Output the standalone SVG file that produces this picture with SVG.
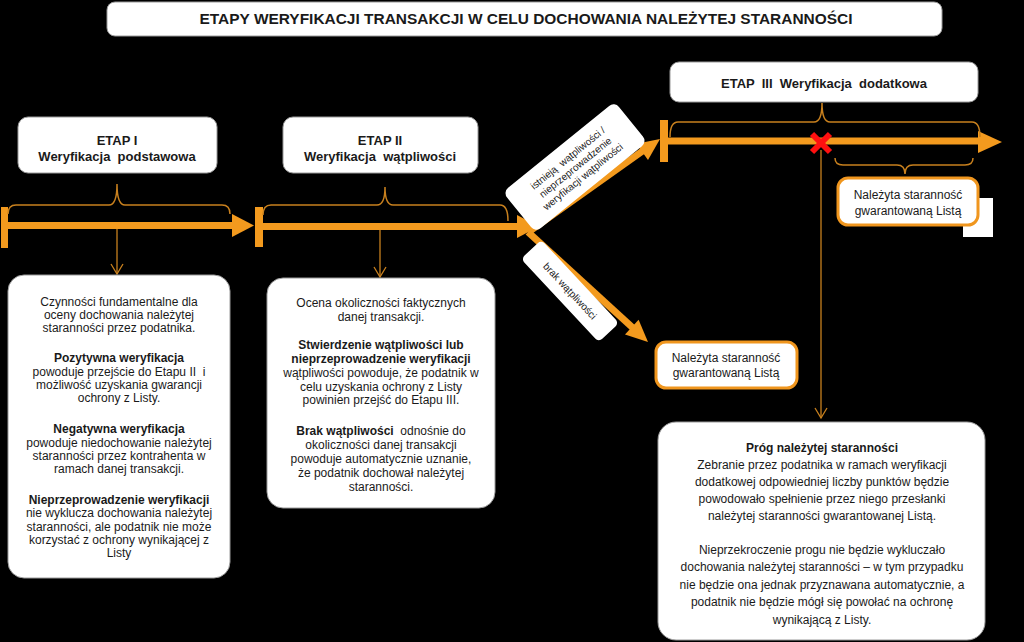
<svg xmlns="http://www.w3.org/2000/svg" width="1024" height="642" viewBox="0 0 1024 642">
<defs>
<style>
text{font-family:"Liberation Sans",Arial,sans-serif;fill:#1a1a1a;text-anchor:middle}
.t{font-size:12px}
.b{font-weight:bold}
.h{font-size:13px;font-weight:bold}
.box{fill:#fff;stroke:#9a9a9a;stroke-width:1}
.obox{fill:#fff;stroke:#f0961e;stroke-width:3}
.thick{stroke:#f39a1e;stroke-width:7;fill:none}
.ah{fill:#f39a1e}
.brace{fill:none;stroke:#c8801e;stroke-width:1.5}
.thin{fill:none;stroke:#c8801e;stroke-width:1.3}
.lab{font-size:10px}
</style>
</defs>
<rect width="1024" height="642" fill="#000"/>

<g id="title">
<rect class="box" x="107" y="2" width="835" height="34" rx="8"/>
<text class="b" x="526" y="24" font-size="14" textLength="653" lengthAdjust="spacingAndGlyphs">ETAPY WERYFIKACJI TRANSAKCJI W CELU DOCHOWANIA  NALEŻYTEJ STARANNOŚCI</text>
</g>

<g id="connectors">
<!-- timeline 1 -->
<rect class="ah" x="1" y="207" width="7" height="41"/>
<line class="thick" x1="8" y1="225.5" x2="234" y2="225.5"/>
<polygon class="ah" points="232,214 254,225.5 232,237"/>
<path class="brace" d="M8,214 Q8,205 16,205 L109,205 Q117,205 117,184 Q117,205 125,205 L222,205 Q230,205 230,214"/>
<line class="thin" x1="117" y1="229" x2="117" y2="274"/>
<polyline class="thin" points="111,264 117,274 123,264"/>
<!-- timeline 2 -->
<rect class="ah" x="255" y="207" width="8" height="40"/>
<line class="thick" x1="263" y1="226.5" x2="519" y2="226.5"/>
<polygon class="ah" points="517,215 539,226.5 517,238"/>
<path class="brace" d="M263,215 Q263,205 271,205 L377,205 Q385,205 385,187 Q385,205 393,205 L500,205 Q508,205 508,221"/>
<line class="thin" x1="380" y1="230" x2="380" y2="277"/>
<polyline class="thin" points="374,267 380,277 386,267"/>
<!-- diagonal up -->
<line class="thick" x1="530" y1="231" x2="644" y2="150" stroke-width="8"/>
<polygon class="ah" points="648,160 660,139 636.4,143.7"/>
<!-- diagonal down -->
<line class="thick" x1="528" y1="232" x2="633" y2="328" stroke-width="8"/>
<polygon class="ah" points="625,334.5 648,342 638.6,319.7"/>
<!-- timeline 3 -->
<rect class="ah" x="660" y="120" width="8" height="42"/>
<line class="thick" x1="668" y1="141" x2="980" y2="141" stroke-width="8"/>
<polygon class="ah" points="978,131 1002,142 978,153"/>
<path class="brace" d="M670,137 Q670,122 678,122 L814,122 Q822,122 822,103 Q822,122 830,122 L972,122 Q980,122 980,137"/>
<path class="brace" d="M835,158 Q835,165 843,165 L897,165 Q905,165 905,174 Q905,165 913,165 L965,165 Q973,165 973,158"/>
<line class="thin" x1="821" y1="150" x2="821" y2="418"/>
<polyline class="thin" points="815,408 821,418 827,408"/>
<g stroke="#ff1010" stroke-width="6" stroke-linecap="butt">
<line x1="812" y1="134" x2="830" y2="152"/>
<line x1="830" y1="134" x2="812" y2="152"/>
</g>
</g>

<g id="etap1">
<rect class="box" x="18" y="117" width="199" height="56" rx="10"/>
<text class="h" x="117" y="145">ETAP I</text>
<text class="h" x="117" y="161" xml:space="preserve">Weryfikacja  podstawowa</text>
</g>

<g id="etap2">
<rect class="box" x="283" y="117" width="195" height="56" rx="10"/>
<text class="h" x="380" y="145">ETAP II</text>
<text class="h" x="380" y="161" xml:space="preserve">Weryfikacja  wątpliwości</text>
</g>

<g id="etap3">
<rect class="box" x="670" y="62" width="308" height="40" rx="9"/>
<text class="h" x="824" y="88" xml:space="preserve">ETAP  III  Weryfikacja  dodatkowa</text>
</g>

<g id="label-up">
<g transform="translate(575,167) rotate(-39)">
<rect fill="#fff" x="-72" y="-26" width="144" height="52" rx="7"/>
<text class="lab" x="0" y="-8" xml:space="preserve">istnieją  wątpliwości /</text>
<text class="lab" x="0" y="4">nieprzeprowadzenie</text>
<text class="lab" x="0" y="16">weryfikacji wątpliwości</text>
</g>
</g>

<g id="label-down">
<g transform="translate(570,291) rotate(47)">
<rect fill="#fff" x="-57" y="-14" width="114" height="28" rx="5"/>
<text class="lab" x="0" y="3.5">brak wątpliwości</text>
</g>
</g>

<g id="box1">
<rect class="box" x="8" y="275" width="222" height="303" rx="16"/>
<text class="t" x="119" y="306">Czynności fundamentalne dla</text>
<text class="t" x="119" y="319">oceny dochowania należytej</text>
<text class="t" x="119" y="332">staranności przez podatnika.</text>
<text class="t b" x="119" y="362">Pozytywna weryfikacja</text>
<text class="t" x="119" y="376" xml:space="preserve">powoduje przejście do Etapu II  i</text>
<text class="t" x="119" y="389">możliwość uzyskania gwarancji</text>
<text class="t" x="119" y="402">ochrony z Listy.</text>
<text class="t b" x="119" y="433">Negatywna weryfikacja</text>
<text class="t" x="119" y="447">powoduje niedochowanie należytej</text>
<text class="t" x="119" y="460">staranności przez kontrahenta w</text>
<text class="t" x="119" y="473">ramach danej transakcji.</text>
<text class="t b" x="119" y="504">Nieprzeprowadzenie weryfikacji</text>
<text class="t" x="119" y="517">nie wyklucza dochowania należytej</text>
<text class="t" x="119" y="531">staranności, ale podatnik nie może</text>
<text class="t" x="119" y="544">korzystać z ochrony wynikającej z</text>
<text class="t" x="119" y="557">Listy</text>
</g>

<g id="box2">
<rect class="box" x="267" y="278" width="228" height="230" rx="16"/>
<text class="t" x="381" y="307">Ocena okoliczności faktycznych</text>
<text class="t" x="381" y="321">danej transakcji.</text>
<text class="t b" x="381" y="349">Stwierdzenie wątpliwości lub</text>
<text class="t b" x="381" y="363">nieprzeprowadzenie weryfikacji</text>
<text class="t" x="381" y="377">wątpliwości powoduje, że podatnik w</text>
<text class="t" x="381" y="391">celu uzyskania ochrony z Listy</text>
<text class="t" x="381" y="404">powinien przejść do Etapu III.</text>
<text class="t" x="381" y="435" xml:space="preserve"><tspan class="b">Brak wątpliwości</tspan>  odnośnie do</text>
<text class="t" x="381" y="449">okoliczności danej transakcji</text>
<text class="t" x="381" y="463">powoduje automatycznie uznanie,</text>
<text class="t" x="381" y="477">że podatnik dochował należytej</text>
<text class="t" x="381" y="491">staranności.</text>
</g>

<g id="result-bottom">
<rect class="obox" x="656" y="342" width="141" height="46" rx="10"/>
<text class="t" x="726" y="362">Należyta staranność</text>
<text class="t" x="726" y="377">gwarantowaną Listą</text>
</g>

<g id="result-top">
<rect fill="#fff" x="963" y="198" width="30" height="39"/>
<rect class="obox" x="838" y="178" width="140" height="47" rx="10"/>
<text class="t" x="908" y="199">Należyta staranność</text>
<text class="t" x="908" y="215">gwarantowaną Listą</text>
</g>

<g id="box3">
<rect class="box" x="658" y="422" width="327" height="218" rx="18"/>
<text class="t b" x="822" y="452">Próg należytej staranności</text>
<text class="t" x="822" y="469">Zebranie przez podatnika w ramach weryfikacji</text>
<text class="t" x="822" y="486">dodatkowej odpowiedniej liczby punktów będzie</text>
<text class="t" x="822" y="503">powodowało spełnienie przez niego przesłanki</text>
<text class="t" x="822" y="520">należytej staranności gwarantowanej Listą.</text>
<text class="t" x="822" y="554">Nieprzekroczenie progu nie będzie wykluczało</text>
<text class="t" x="822" y="571">dochowania należytej staranności – w tym przypadku</text>
<text class="t" x="822" y="589">nie będzie ona jednak przyznawana automatycznie, a</text>
<text class="t" x="822" y="606">podatnik nie będzie mógł się powołać na ochronę</text>
<text class="t" x="822" y="624">wynikającą z Listy.</text>
</g>
</svg>
